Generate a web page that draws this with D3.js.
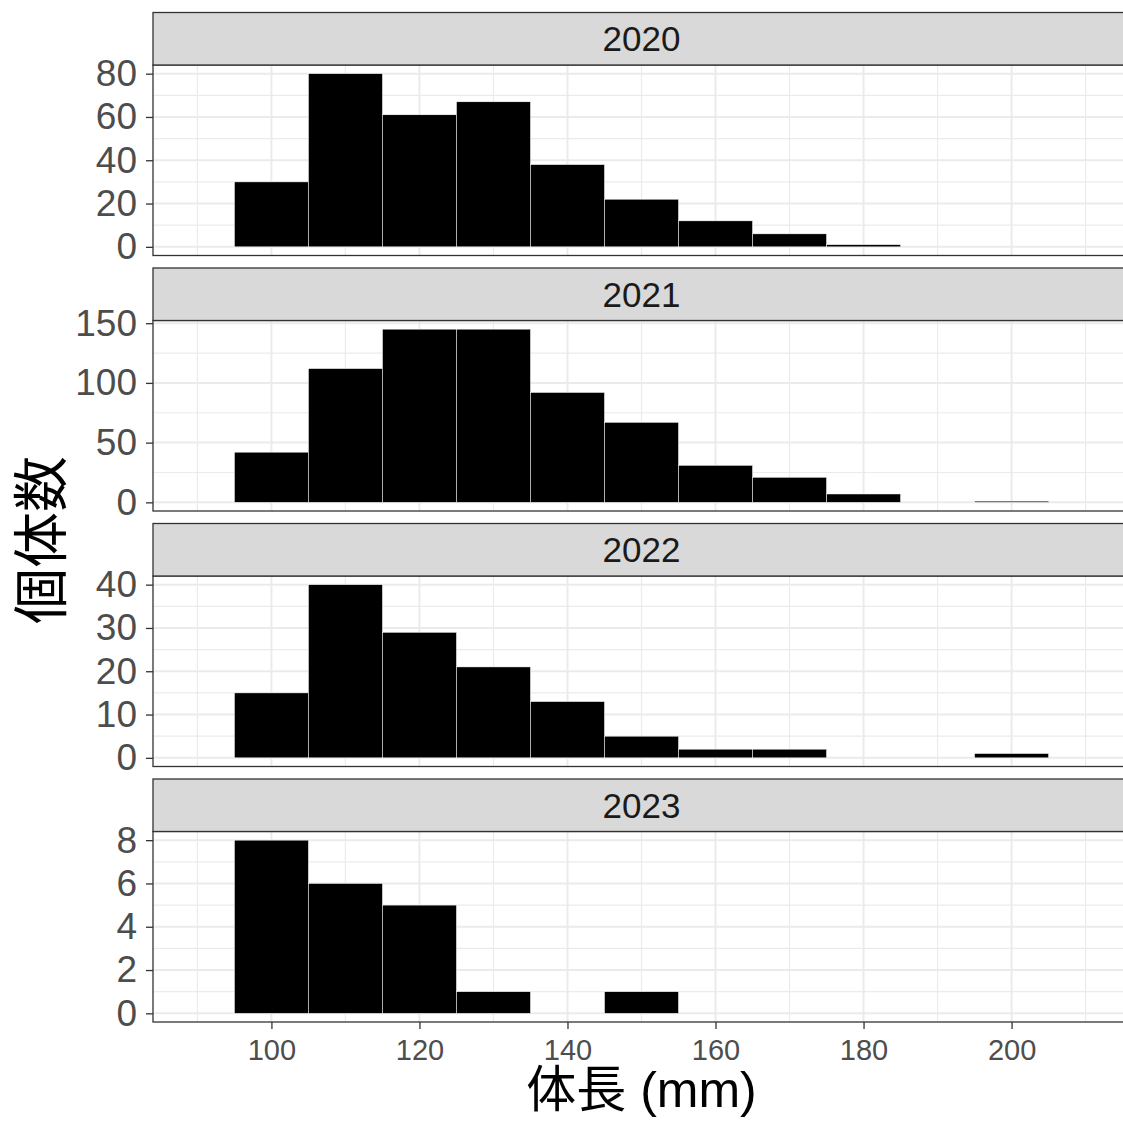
<!DOCTYPE html>
<html>
<head>
<meta charset="utf-8">
<script src="https://cdn.jsdelivr.net/npm/d3@7"></script>
<style>
  body { margin: 0; background: #fff; }
  svg text { font-family: "Liberation Sans", Arial, "Noto Sans CJK JP", sans-serif; }
</style>
</head>
<body>
<div id="chart"></div>
<script>
const years = ["2020", "2021", "2022", "2023"];
const binStarts = [95, 105, 115, 125, 135, 145, 155, 165, 175, 185, 195];
const binWidth = 10;
const counts2020 = [30, 80, 61, 67, 38, 22, 12, 6, 1, 0, 0];
const counts2021 = [42, 112, 145, 145, 92, 67, 31, 21, 7, 0, 1];
const counts2022 = [15, 40, 29, 21, 13, 5, 2, 2, 0, 0, 1];
const counts2023 = [8, 6, 5, 1, 0, 1, 0, 0, 0, 0, 0];
const yTicks2020 = [0, 20, 40, 60, 80];
const yTicks2021 = [0, 50, 100, 150];
const yTicks2022 = [0, 10, 20, 30, 40];
const yTicks2023 = [0, 2, 4, 6, 8];
const xTicks = [100, 120, 140, 160, 180, 200];
const xMinor = [90, 110, 130, 150, 170, 190, 210];
const xLabel = "体長 (mm)";
const yLabel = "個体数";

const allCounts = [counts2020, counts2021, counts2022, counts2023];
const allTicks = [yTicks2020, yTicks2021, yTicks2022, yTicks2023];

const width = 1123;
const height = 1122;
const left = 153;
const right = 1130;
const stripTop0 = 12.5;
const stripH = 52.5;
const panelH = 190.5;
const facetStep = 255.5;

const theme = {
  border: "#333333",
  strip: "#D9D9D9",
  grid: "#EBEBEB",
  tick: "#4D4D4D",
  stripText: "#1A1A1A",
};

const svg = d3
  .select("#chart")
  .append("svg")
  .attr("width", width)
  .attr("height", height);

const xScale = d3.scaleLinear().domain([84, 216]).range([left, right]);

years.forEach((year, i) => {
  const counts = allCounts[i];
  const ticks = allTicks[i];
  const stripY = stripTop0 + i * facetStep;
  const top = stripY + stripH;
  const bottom = top + panelH;
  const yMax = d3.max(counts);
  const yScale = d3
    .scaleLinear()
    .domain([-0.05 * yMax, 1.05 * yMax])
    .range([bottom, top]);

  const g = svg.append("g");

  // minor grid
  const step = ticks[1] - ticks[0];
  const yMinor = [];
  for (let k = 0; k < ticks.length; k++) {
    const m = ticks[k] + step / 2;
    if (m < yScale.domain()[1]) yMinor.push(m);
  }
  g.selectAll(".ymin")
    .data(yMinor)
    .join("line")
    .attr("x1", left)
    .attr("x2", right)
    .attr("y1", (d) => yScale(d))
    .attr("y2", (d) => yScale(d))
    .attr("stroke", theme.grid)
    .attr("stroke-width", 1.2);
  g.selectAll(".xmin")
    .data(xMinor)
    .join("line")
    .attr("x1", (d) => xScale(d))
    .attr("x2", (d) => xScale(d))
    .attr("y1", top)
    .attr("y2", bottom)
    .attr("stroke", theme.grid)
    .attr("stroke-width", 1.2);
  // major grid
  g.selectAll(".ymaj")
    .data(ticks)
    .join("line")
    .attr("x1", left)
    .attr("x2", right)
    .attr("y1", (d) => yScale(d))
    .attr("y2", (d) => yScale(d))
    .attr("stroke", theme.grid)
    .attr("stroke-width", 2);
  g.selectAll(".xmaj")
    .data(xTicks)
    .join("line")
    .attr("x1", (d) => xScale(d))
    .attr("x2", (d) => xScale(d))
    .attr("y1", top)
    .attr("y2", bottom)
    .attr("stroke", theme.grid)
    .attr("stroke-width", 2);

  // bars
  g.selectAll(".bar")
    .data(binStarts.map((b, k) => ({ x0: b, x1: b + binWidth, n: counts[k] })))
    .join("rect")
    .attr("x", (d) => xScale(d.x0))
    .attr("width", (d) => xScale(d.x1) - xScale(d.x0))
    .attr("y", (d) => yScale(d.n))
    .attr("height", (d) => yScale(0) - yScale(d.n))
    .attr("fill", "black")
    .attr("stroke", "white")
    .attr("stroke-width", 0.5);

  // panel border
  g.append("rect")
    .attr("x", left)
    .attr("y", top)
    .attr("width", right - left)
    .attr("height", panelH)
    .attr("fill", "none")
    .attr("stroke", theme.border)
    .attr("stroke-width", 1.3);

  // strip
  g.append("rect")
    .attr("x", left)
    .attr("y", stripY)
    .attr("width", right - left)
    .attr("height", stripH)
    .attr("fill", theme.strip)
    .attr("stroke", theme.border)
    .attr("stroke-width", 1.3);
  g.append("text")
    .attr("x", (left + right) / 2)
    .attr("y", stripY + stripH / 2)
    .attr("text-anchor", "middle")
    .attr("dominant-baseline", "central")
    .attr("font-size", 35)
    .attr("fill", theme.stripText)
    .text(year);

  // y axis
  const yAxis = svg
    .append("g")
    .attr("transform", `translate(${left}, 0)`)
    .call(d3.axisLeft(yScale).tickValues(ticks).tickSize(7).tickPadding(9));
  yAxis.select(".domain").remove();
  yAxis.selectAll("line").attr("stroke", theme.border).attr("stroke-width", 1.3);
  yAxis
    .selectAll("text")
    .attr("font-size", 37)
    .attr("fill", theme.tick)
    .attr("font-family", null);

  if (i === years.length - 1) {
    const xAxis = svg
      .append("g")
      .attr("transform", `translate(0, ${bottom})`)
      .call(d3.axisBottom(xScale).tickValues(xTicks).tickSize(7).tickPadding(10));
    xAxis.select(".domain").remove();
    xAxis.selectAll("line").attr("stroke", theme.border).attr("stroke-width", 1.3);
    xAxis
      .selectAll("text")
      .attr("font-size", 29)
      .attr("fill", theme.tick)
      .attr("font-family", null);
  }
});

svg
  .append("text")
  .attr("x", (left + right) / 2)
  .attr("y", 1107)
  .attr("text-anchor", "middle")
  .attr("font-size", 50)
  .attr("fill", "black")
  .text(xLabel);

svg
  .append("text")
  .attr("transform", "translate(41, 540) rotate(-90)")
  .attr("text-anchor", "middle")
  .attr("dominant-baseline", "central")
  .attr("font-size", 56)
  .attr("fill", "black")
  .text(yLabel);
</script>
</body>
</html>
